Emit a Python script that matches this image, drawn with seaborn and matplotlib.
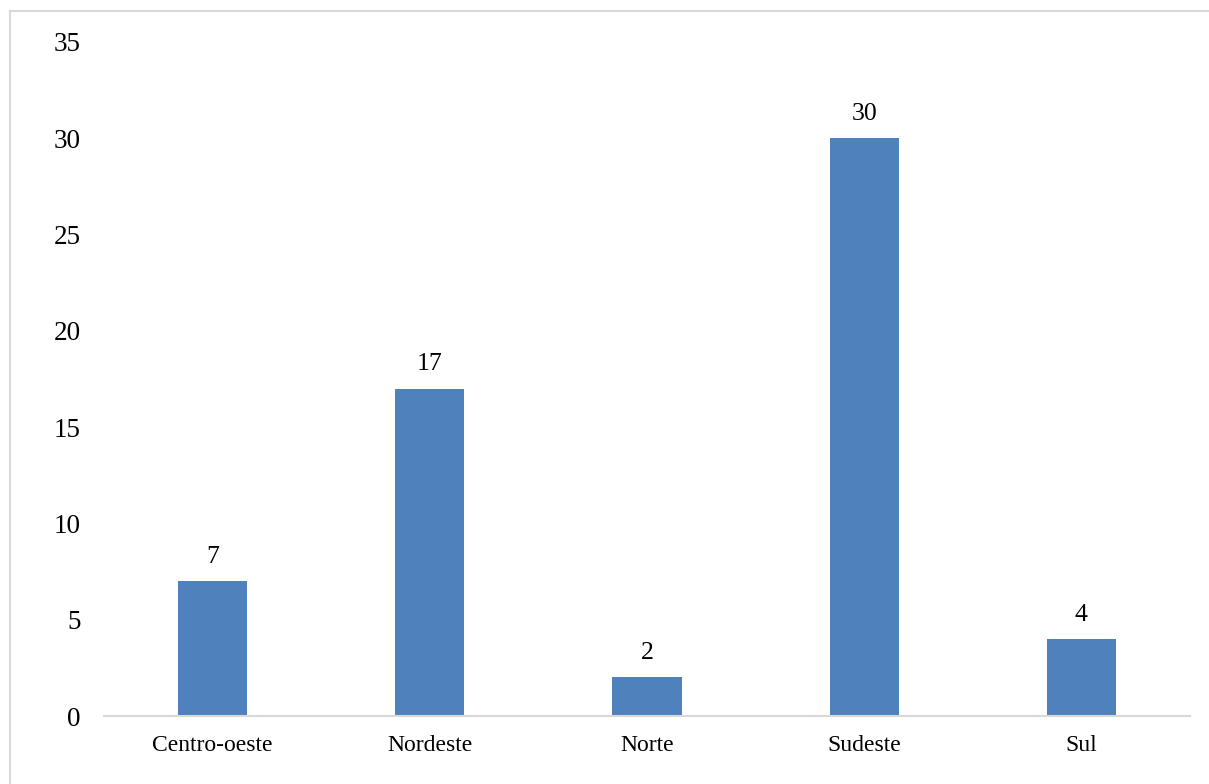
import matplotlib
matplotlib.use("Agg")
import matplotlib.pyplot as plt
import matplotlib.patches as mpatches
import seaborn as sns
import pandas as pd

regioes = ["Centro-oeste", "Nordeste", "Norte", "Sudeste", "Sul"]
valores = [7, 17, 2, 30, 4]
y_ticks = [0, 5, 10, 15, 20, 25, 30, 35]

df = pd.DataFrame({"regiao": regioes, "valor": valores})

sns.set_style("white")
plt.rcParams["font.family"] = ["Liberation Serif", "DejaVu Serif"]

fig = plt.figure(figsize=(12.09, 7.84), dpi=100)
ax = fig.add_axes([104 / 1209, 68 / 784, 1086 / 1209, 674 / 784])

sns.barplot(data=df, x="regiao", y="valor", color="#4F81BD", saturation=1,
            width=0.318, linewidth=0, ax=ax)

for i, v in enumerate(valores):
    ax.annotate(str(v), (i, v), xytext=(0, 9.5), textcoords="offset points",
                ha="center", va="bottom", fontsize=18.5, color="#000000")

ax.set_ylim(0, 35)
ax.set_xlim(-0.5, len(regioes) - 0.5)
ax.set_yticks(y_ticks)
ax.set_xlabel("")
ax.set_ylabel("")
ax.tick_params(axis="y", length=0, pad=17, labelsize=19.5, labelcolor="#000000")
ax.tick_params(axis="x", length=0, pad=14, labelsize=17, labelcolor="#000000")
for s in ["top", "right", "left"]:
    ax.spines[s].set_visible(False)
ax.spines["bottom"].set_color("#d9d9d9")
ax.spines["bottom"].set_linewidth(1.5)
ax.grid(False)

# moldura externa
fig.patches.append(mpatches.Rectangle((10 / 1209, -0.05), 1.2, (784 - 11) / 784 + 0.05,
                                      transform=fig.transFigure, fill=False,
                                      edgecolor="#d9d9d9", linewidth=1.5))

fig.savefig("out.png", dpi=100)
